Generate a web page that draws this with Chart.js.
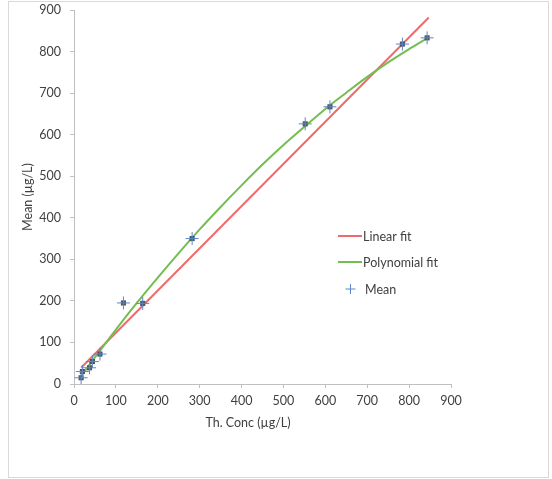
<!DOCTYPE html>
<html>
<head>
<meta charset="utf-8">
<script src="https://cdn.jsdelivr.net/npm/chart.js@4/dist/chart.umd.min.js"></script>
<style>
  html, body { margin: 0; padding: 0; background: #fff; }
  #box {
    position: absolute; left: 8px; top: 1px;
    width: 539px; height: 475px;
    border: 1px solid #d9d9d9;
  }
</style>
</head>
<body>
<div id="box"><canvas id="calChart"></canvas></div>
<script>
// valores
const thConc   = [17, 20, 37, 44, 62, 118, 164, 282, 552, 611, 784, 843];
const meanVals = [15, 30, 39, 54, 72, 195, 194, 350, 626, 667, 818, 833];

// recta de ajuste (extremos)
const linX = [17, 847];
const linY = [39, 882];

// curva polinomica
const polyX = [17, 50, 100, 150, 200, 250, 300, 350, 400, 450, 500, 550, 600, 650, 700, 750, 800, 843];
const polyY = [19, 64, 131, 195, 256, 315, 372, 426, 478, 528, 575, 619, 662, 701, 739, 774, 806, 832];

const xTicks = [0, 100, 200, 300, 400, 500, 600, 700, 800, 900];
const yTicks = [0, 100, 200, 300, 400, 500, 600, 700, 800, 900];

const font = "Lato, 'Open Sans', sans-serif";
const txtColor = "#404040";
const axisColor = "#bfbfbf";

const pairs = (xs, ys) => xs.map((x, i) => ({ x: x, y: ys[i] }));

// leyenda dentro del area y titulo del eje X
const extras = {
  id: "extras",
  afterDraw(chart) {
    const ctx = chart.ctx;
    ctx.save();
    ctx.font = "12.5px " + font;
    ctx.fillStyle = txtColor;
    ctx.textBaseline = "middle";

    const ds = chart.data.datasets;
    // Linear fit
    ctx.strokeStyle = ds[0].borderColor;
    ctx.lineWidth = 2;
    ctx.beginPath(); ctx.moveTo(329, 234); ctx.lineTo(353, 234); ctx.stroke();
    ctx.fillText(ds[0].label, 354, 235);
    // Polynomial fit
    ctx.strokeStyle = ds[1].borderColor;
    ctx.beginPath(); ctx.moveTo(329, 260); ctx.lineTo(353, 260); ctx.stroke();
    ctx.fillText(ds[1].label, 354, 261);
    // Mean
    ctx.strokeStyle = ds[3].borderColor;
    ctx.lineWidth = 1;
    Chart.helpers.drawPoint(ctx, { pointStyle: "cross", radius: 5, borderWidth: 1 }, 341.5, 287);
    ctx.fillText(ds[3].label, 356, 288);

    // titulo eje X
    ctx.textAlign = "center";
    ctx.fillText("Th. Conc (\u00b5g/L)", 239, 421);
    ctx.restore();
  }
};

new Chart(document.getElementById("calChart"), {
  type: "scatter",
  data: {
    datasets: [
      {
        label: "Linear fit",
        data: pairs(linX, linY),
        showLine: true,
        borderColor: "#ef6a6a",
        borderWidth: 2,
        pointRadius: 0,
        order: 3
      },
      {
        label: "Polynomial fit",
        data: pairs(polyX, polyY),
        showLine: true,
        tension: 0.4,
        cubicInterpolationMode: "monotone",
        borderColor: "#74bd50",
        borderWidth: 2,
        pointRadius: 0,
        order: 2
      },
      {
        label: "points",
        data: pairs(thConc, meanVals),
        pointStyle: "rect",
        pointRadius: 3.6,
        backgroundColor: "#4b5563",
        borderColor: "#4b5563",
        borderWidth: 0,
        order: 1
      },
      {
        label: "Mean",
        data: pairs(thConc, meanVals),
        pointStyle: "cross",
        pointRadius: 6.5,
        borderWidth: 1,
        borderColor: "#5b87c8",
        backgroundColor: "#5b87c8",
        order: 0
      }
    ]
  },
  options: {
    responsive: true,
    maintainAspectRatio: false,
    animation: false,
    events: [],
    layout: { padding: { left: 7, top: 8, right: 97, bottom: 43 } },
    plugins: {
      legend: { display: false },
      tooltip: { enabled: false }
    },
    scales: {
      x: {
        type: "linear",
        min: 0, max: 900,
        afterFit: (s) => { s.height = 50; s.paddingLeft = 0; s.paddingRight = 0; },
        afterBuildTicks: (s) => { s.ticks = xTicks.map(v => ({ value: v })); },
        border: { color: axisColor, width: 1 },
        grid: { drawOnChartArea: false, drawTicks: true, tickLength: 4, color: axisColor },
        ticks: { padding: 5, color: txtColor, font: { family: font, size: 12.5 }, maxRotation: 0 }
      },
      y: {
        type: "linear",
        min: 0, max: 900,
        afterFit: (s) => { s.width = 58; s.paddingTop = 0; s.paddingBottom = 0; },
        afterBuildTicks: (s) => { s.ticks = yTicks.map(v => ({ value: v })); },
        border: { color: axisColor, width: 1 },
        grid: { drawOnChartArea: false, drawTicks: true, tickLength: 4, color: axisColor },
        ticks: { padding: 9, color: txtColor, font: { family: font, size: 12.5 } },
        title: {
          display: true,
          text: "Mean (\u00b5g/L)",
          color: txtColor,
          font: { family: font, size: 12.5 },
          padding: { top: 4, bottom: 4 }
        }
      }
    }
  },
  plugins: [extras]
});
</script>
</body>
</html>
